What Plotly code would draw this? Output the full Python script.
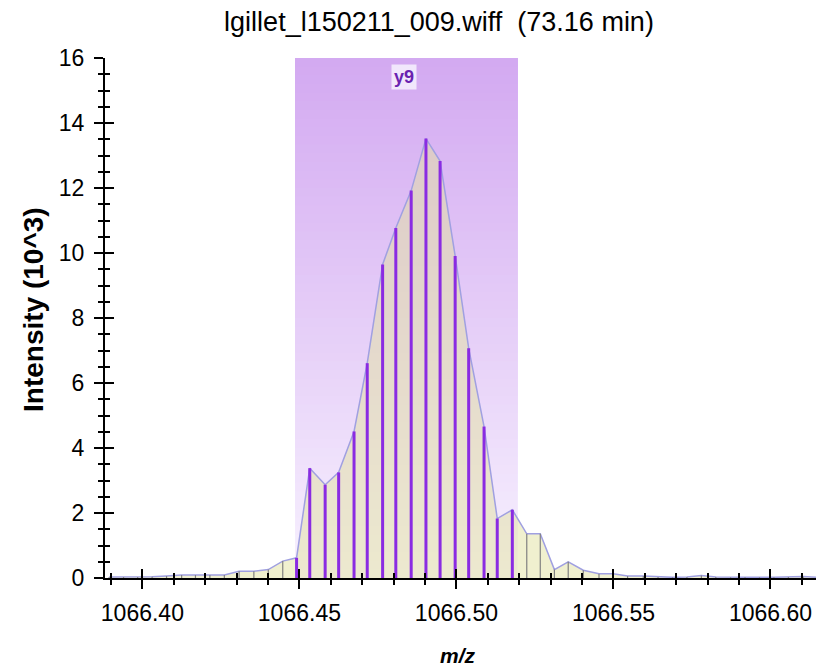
import plotly.graph_objects as go

# ---------------- data ----------------
title_text = "lgillet_l150211_009.wiff  (73.16 min)"
ion_label = "y9"
ion_lo = 1066.4487
ion_hi = 1066.5194

mz = [1066.3894, 1066.3940, 1066.3985, 1066.4031, 1066.4077, 1066.4125, 1066.4169,
      1066.4215, 1066.4261, 1066.4308, 1066.4355, 1066.4401, 1066.4447, 1066.4491,
      1066.4533, 1066.4582, 1066.4625, 1066.4674, 1066.4716, 1066.4765, 1066.4807,
      1066.4856, 1066.4903, 1066.4948, 1066.4996, 1066.5039, 1066.5088, 1066.5130,
      1066.5178, 1066.5224, 1066.5267, 1066.5312, 1066.5356, 1066.5404, 1066.5454,
      1066.5499, 1066.5545, 1066.5595, 1066.5642, 1066.5688, 1066.5734, 1066.5780,
      1066.5826, 1066.5873, 1066.5919, 1066.5965, 1066.6011, 1066.6057, 1066.6104,
      1066.6150]
intensity = [0.03, 0.03, 0.03, 0.04, 0.06, 0.09, 0.09,
             0.09, 0.09, 0.21, 0.21, 0.26, 0.52, 0.62,
             3.38, 2.87, 3.25, 4.51, 6.61, 9.65, 10.77,
             11.92, 13.52, 12.83, 9.91, 7.07, 4.66, 1.83,
             2.10, 1.36, 1.36, 0.26, 0.50, 0.24, 0.13,
             0.13, 0.06, 0.06, 0.03, 0.02, 0.03, 0.08,
             0.03, 0.02, 0.02, 0.02, 0.02, 0.03, 0.05,
             0.02]

x_tickvals = [1066.40, 1066.45, 1066.50, 1066.55, 1066.60]
y_tickvals = [0, 2, 4, 6, 8, 10, 12, 14, 16]

x_range = [1066.3881, 1066.6145]
y_range = [0, 16]

# ---------------- figure ----------------
fig = go.Figure()

# profile with filled area
fig.add_trace(go.Scatter(
    x=mz, y=intensity, mode="lines", fill="tozeroy",
    fillcolor="rgba(226,226,160,0.5)",
    line=dict(color="rgba(160,160,225,1)", width=1.5),
    hoverinfo="skip", showlegend=False))

# sticks
def segs(sel):
    xs, ys = [], []
    for x, y in zip(mz, intensity):
        if sel(x):
            xs += [x, x, None]
            ys += [0, y, None]
    return xs, ys

gx, gy = segs(lambda x: not (ion_lo <= x <= ion_hi))
px_, py_ = segs(lambda x: ion_lo <= x <= ion_hi)
fig.add_trace(go.Scatter(x=gx, y=gy, mode="lines",
                         line=dict(color="#808080", width=1.2),
                         hoverinfo="skip", showlegend=False))
fig.add_trace(go.Scatter(x=px_, y=py_, mode="lines",
                         line=dict(color="#8A2BE2", width=3),
                         hoverinfo="skip", showlegend=False))

# dummy trace for overlay axes (crossing ticks)
fig.add_trace(go.Scatter(x=[x_range[0]], y=[0], xaxis="x2", yaxis="y2",
                         mode="markers", marker=dict(opacity=0),
                         hoverinfo="skip", showlegend=False))

# gradient band for the ion (stacked rects, each covering up to the top)
shapes = []
n = 60
top = (211, 169, 241)
bot = (247, 241, 254)
for i in range(n):
    f = (i + 0.5) / n
    c = tuple(round(bot[k] + (top[k] - bot[k]) * f) for k in range(3))
    shapes.append(dict(type="rect", xref="x", yref="y", layer="below",
                       x0=ion_lo, x1=ion_hi,
                       y0=y_range[0] + (y_range[1] - y_range[0]) * i / n,
                       y1=y_range[1],
                       line=dict(width=0), fillcolor="rgb(%d,%d,%d)" % c))

font_family = "Liberation Sans, Arial, sans-serif"

axis_common = dict(showgrid=False, zeroline=False)

fig.update_layout(
    width=820, height=669,
    margin=dict(l=105, r=4, t=58, b=91),
    paper_bgcolor="white", plot_bgcolor="white",
    shapes=shapes,
    font=dict(family=font_family, color="black"),
    title=dict(text=title_text, x=439 / 820, xanchor="center",
               y=1 - 22 / 669, yref="container", yanchor="middle",
               font=dict(size=27, color="black", family=font_family)),
    xaxis=dict(range=x_range, tickvals=x_tickvals, tickformat=".2f",
               ticks="outside", ticklen=9, tickwidth=2, tickcolor="black",
               showline=True, linecolor="black", linewidth=2,
               tickfont=dict(size=23), ticklabelstandoff=4,
               minor=dict(dtick=0.01, tick0=1066.40, ticks="outside", ticklen=5,
                          tickwidth=1.5, tickcolor="black"),
               **axis_common),
    yaxis=dict(range=y_range, tickvals=y_tickvals,
               ticks="outside", ticklen=9, tickwidth=2, tickcolor="black",
               showline=True, linecolor="black", linewidth=2,
               tickfont=dict(size=23), ticklabelstandoff=5,
               minor=dict(dtick=0.5, tick0=0, ticks="outside", ticklen=5,
                          tickwidth=1.5, tickcolor="black"),
               **axis_common),
    xaxis2=dict(range=x_range, overlaying="x", anchor="y", side="bottom",
                tickvals=x_tickvals, showticklabels=False,
                ticks="inside", ticklen=9, tickwidth=2, tickcolor="black",
                minor=dict(dtick=0.01, tick0=1066.40, ticks="inside", ticklen=5,
                           tickwidth=1.5, tickcolor="black"),
                showline=False, **axis_common),
    yaxis2=dict(range=y_range, overlaying="y", anchor="x", side="left",
                tickvals=y_tickvals, showticklabels=False,
                ticks="inside", ticklen=9, tickwidth=2, tickcolor="black",
                minor=dict(dtick=0.5, tick0=0, ticks="inside", ticklen=5,
                           tickwidth=1.5, tickcolor="black"),
                showline=False, **axis_common),
    annotations=[
        dict(text="<b>Intensity (10^3)</b>", xref="paper", yref="paper",
             x=-72 / 711, xanchor="center", y=(578 - 310) / 520, yanchor="middle",
             textangle=-90, showarrow=False, font=dict(size=28, color="black")),
        dict(text="<b><i>m/z</i></b>", xref="paper", yref="paper",
             x=0.497, xanchor="center", y=-77 / 520, yanchor="middle",
             showarrow=False, font=dict(size=21, color="black")),
        dict(text="<b>%s</b>" % ion_label, xref="x", yref="y",
             x=(ion_lo + ion_hi) / 2, y=15.42, xanchor="center", yanchor="middle",
             xshift=-2,
             showarrow=False, bgcolor="#F1E7FC", borderpad=2,
             font=dict(size=18, color="#6A22B0")),
    ],
)

fig.write_html("out.html")
